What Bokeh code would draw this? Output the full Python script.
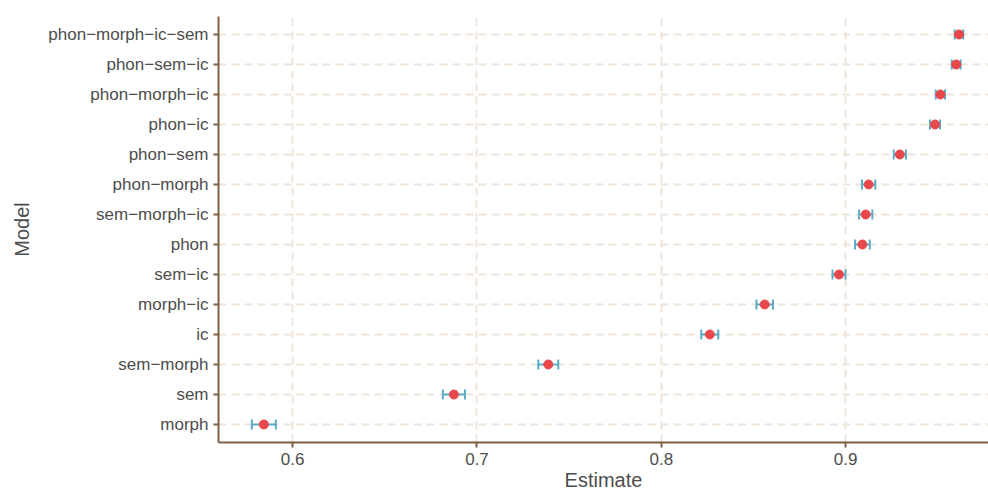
from bokeh.plotting import figure
from bokeh.models import FactorRange, Range1d, FixedTicker, Whisker, ColumnDataSource, TeeHead
from bokeh.embed import file_html
from bokeh.resources import INLINE

# ---- data ----
models = ["morph", "sem", "sem−morph", "ic", "morph−ic", "sem−ic", "phon",
          "sem−morph−ic", "phon−morph", "phon−sem", "phon−ic", "phon−morph−ic",
          "phon−sem−ic", "phon−morph−ic−sem"]
estimates = [0.5844, 0.6875, 0.7387, 0.8263, 0.8561, 0.8964, 0.9091,
             0.9109, 0.9125, 0.9294, 0.9485, 0.9514, 0.9600, 0.9615]
half_ci = [0.0065, 0.0060, 0.0054, 0.0046, 0.0045, 0.0035, 0.0040,
           0.0036, 0.0036, 0.0033, 0.0027, 0.0025, 0.0024, 0.0023]
x_ticks = [0.6, 0.7, 0.8, 0.9]
x_title = "Estimate"
y_title = "Model"
x_lo, x_hi = 0.5598, 0.9775

lower = [e - h for e, h in zip(estimates, half_ci)]
upper = [e + h for e, h in zip(estimates, half_ci)]
src = ColumnDataSource(dict(model=models, est=estimates, lower=lower, upper=upper))

FONT = "Liberation Sans"
AXIS = "#7C6146"
GRID = "#EFE4DA"
TXT = "#4D4D4D"

p = figure(width=988, height=495,
           y_range=FactorRange(factors=models, range_padding=0.1, range_padding_units="absolute"),
           x_range=Range1d(x_lo, x_hi),
           output_backend="svg", toolbar_location=None,
           min_border_left=218, min_border_right=0, min_border_top=16, min_border_bottom=53)
p.outline_line_color = None
p.background_fill_color = "white"
p.border_fill_color = "white"

for g in (p.xgrid, p.ygrid):
    g.grid_line_color = GRID
    g.grid_line_width = 2
    g.grid_line_dash = "8 5"
p.xgrid.ticker = FixedTicker(ticks=x_ticks)

p.xaxis.ticker = FixedTicker(ticks=x_ticks)
for ax in (p.xaxis, p.yaxis):
    ax.axis_line_color = AXIS
    ax.axis_line_width = 2
    ax.major_tick_line_color = AXIS
    ax.major_tick_line_width = 2
    ax.major_tick_out = 5
    ax.major_tick_in = 0
    ax.minor_tick_line_color = None
    ax.major_label_text_font = FONT
    ax.major_label_text_font_size = "17px"
    ax.major_label_text_color = TXT
    ax.axis_label_text_font = FONT
    ax.axis_label_text_font_size = "20px"
    ax.axis_label_text_font_style = "normal"
    ax.axis_label_text_color = TXT
p.xaxis.axis_label = x_title
p.yaxis.axis_label = y_title
p.xaxis.major_label_standoff = 5
p.yaxis.major_label_standoff = 5
p.xaxis.axis_label_standoff = 1
p.yaxis.axis_label_standoff = 12

ERR = "#5AACC7"
w = Whisker(source=src, base="model", lower="lower", upper="upper", dimension="width",
            line_color=ERR, line_width=2,
            upper_head=TeeHead(size=10, line_color=ERR, line_width=2),
            lower_head=TeeHead(size=10, line_color=ERR, line_width=2))
w.level = "underlay"
p.add_layout(w)

p.scatter("est", "model", source=src, size=9, fill_color="#E8474B", line_color="#E8474B")

open("out.html", "w").write(file_html(p, INLINE))
